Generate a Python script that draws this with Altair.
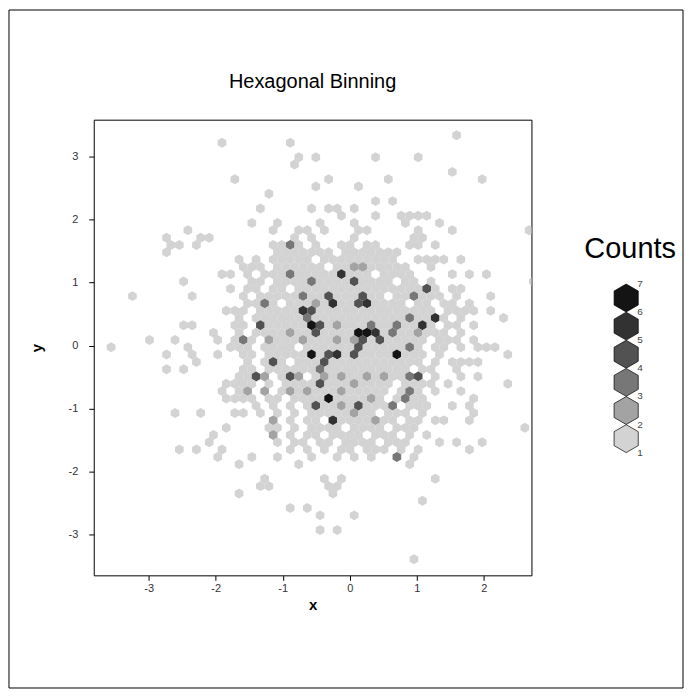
import altair as alt
import pandas as pd

TITLE = "Hexagonal Binning"
X_TICKS = [-3, -2, -1, 0, 1, 2]
Y_TICKS = [-3, -2, -1, 0, 1, 2, 3]
X_DOMAIN = [-3.82, 2.712]
Y_DOMAIN = [-3.649, 3.586]

# hexagon lattice of the bins (centres): odd rows are shifted by half a column
X_ORIGIN, X_STEP = -3.6246, 0.1273
Y_ORIGIN, Y_STEP = 3.3372, 0.11604

# one entry per hexagon row (top row first); tokens: "c" one point in column c,
# "a-b" count 1 in columns a..b, "c=k" count k in column c, "!c" empty column c
ROWS = [
    "41",
    "13 21",
    "",
    "22 24 31 36",
    "22",
    "40",
    "15 26 33 44",
    "24 29",
    "19",
    "31 33",
    "18 24 26 27 29",
    "27 31 34-37",
    "17 20 25 29 35 39",
    "9 19 22 23 25 29 30 36 40 49",
    "7 11 12 22 24 29 36 37",
    "7 8 10 19 20 21=3 22 24 27 28 30 31 35 36 38",
    "7 20-26 28-34",
    "15 17 19-23 25-33 36-39 41",
    "16 17 18 20-35 29=2 30=2 38 !26",
    "13 14 16 18-35 21=3 27=5 40 42 44 !31",
    "9 17-38 24=3 29=4 50 !19 !34 !37",
    "14 16-41 37=4 !18 !21 !39",
    "3 10 16-41 23=3 26=4 30=4 36=3 45 !17 !33 !40",
    "16-42 18=3 24=2 26=5 29=4 30=5 !20 !35 !38 !41",
    "14 15-41 23=5 24=4 42 43 45 !17 !39",
    "15-41 23=3 35=3 38=5 46 !16 !40",
    "9 10 15-41 18=4 24=6 25=4 27=2 31=3 34=3 37=5 43 !17 !39",
    "12 15-41 21=2 24=4 29=6 30=6 31=5 33=3 36=2 !16 !40",
    "5 8 13 15-41 16=3 19=2 23=2 27=2 29=2 30=4 32=4 43 !18 !38",
    "0 9 14 15-39 29=4 35=3 41 43 44 45 !17 !22 !37",
    "7 10 13 16-39 24=6 26=4 27=5 29=4 34=6 47 !18 !38",
    "10 16-43 19=4 25=4 !17 !21 !37 !39",
    "7 9 16-38 25=3 41 !18 !36",
    "15 16-38 17=4 18=2 21=4 22=2 25=2 27=2 30=2 32=2 35=3 36=4 41 43 !19 !23 !37",
    "14 15 16 17-38 25=4 29=2 40 47 !18 !20 !34",
    "13 15 16-38 16=2 18=2 21=2 23=2 27=2 35=3 41 !17 !19 !33 !37",
    "14 15 16 17-37 26=6 31=2 35=3 43 !18 !21 !33",
    "17-37 24=4 27=2 29=4 33=3 40 42 !18 !20 !22 !34",
    "8 11 15 16 18-37 29=2 43 !19 !21 !23 !32 !36",
    "19-36 19=2 26=5 31=2 38 39 42 !20 !22 !25 !34",
    "14 19-36 49 !21 !23 !28 !33",
    "12 19-35 19=2 37 !20 !22 !25 !30 !34",
    "12 20-35 39 41 44 !21 !24 !27 !32",
    "8 10 13 21-34 36 42 !22 !24 !26 !29 !33",
    "13 17 20 24 27 29 31 34=3 36",
    "15 22 35",
    "",
    "18 25 27 38",
    "18 19 26 27",
    "15 26",
    "37",
    "21 23",
    "25 29",
    "",
    "25 27",
    "",
    "",
    "",
    "36",
]

COUNT_LEVELS = [1, 2, 3, 4, 5, 6]
GRAYS = ["#d3d3d3", "#a3a3a3", "#777777", "#525252", "#323232", "#141414"]
LEGEND_BREAKS = [1, 2, 3, 4, 5, 6, 7]
LEGEND_TITLE = "Counts"


def parse(rows):
    recs = []
    for r, spec in enumerate(rows):
        cells = {}
        for tok in spec.split():
            if tok.startswith("!"):
                cells.pop(int(tok[1:]), None)
            elif "=" in tok:
                c, k = tok.split("=")
                cells[int(c)] = int(k)
            elif "-" in tok:
                a, b = tok.split("-")
                for c in range(int(a), int(b) + 1):
                    cells[c] = 1
            else:
                cells[int(tok)] = 1
        for c, k in sorted(cells.items()):
            recs.append({
                "x": X_ORIGIN + X_STEP * (c + 0.5 * (r % 2)),
                "y": Y_ORIGIN - Y_STEP * r,
                "count": k,
            })
    return pd.DataFrame(recs)


df = parse(ROWS)

HEX = "M0,-1L0.866,-0.5L0.866,0.5L0,1L-0.866,0.5L-0.866,-0.5Z"
FONT = "Liberation Sans"
color_scale = alt.Scale(domain=COUNT_LEVELS, range=GRAYS)
x_scale = alt.Scale(domain=X_DOMAIN, nice=False, zero=False)
y_scale = alt.Scale(domain=Y_DOMAIN, nice=False, zero=False)

axis_common = dict(
    domain=False, grid=False, ticks=True, tickSize=5, tickColor="black",
    tickWidth=1, labelFont=FONT, labelFontSize=11, labelColor="#333333",
    titleFont=FONT, titleFontSize=15, titleFontWeight="bold", titleColor="black",
    labelExpr="'' + datum.value",
)

hexes = alt.Chart(df).mark_point(
    shape=HEX, filled=True, size=100, opacity=1, strokeWidth=0, clip=True
).encode(
    x=alt.X("x:Q", scale=x_scale,
            axis=alt.Axis(values=X_TICKS, title="x", labelPadding=2, titlePadding=4,
                          **axis_common)),
    y=alt.Y("y:Q", scale=y_scale,
            axis=alt.Axis(values=Y_TICKS, title="y", labelPadding=11, titlePadding=24,
                          **axis_common)),
    color=alt.Color("count:O", scale=color_scale, legend=None),
)

# chart title, centred over the plot, placed above the top of the y range
title_mark = alt.Chart(pd.DataFrame({"t": [TITLE]})).transform_calculate(
    x=str((X_DOMAIN[0] + X_DOMAIN[1]) / 2), y="4.188"
).mark_text(font=FONT, fontSize=20, color="black", baseline="middle", align="center").encode(
    x="x:Q", y="y:Q", text="t:N"
)

# thin outer frame of the whole figure (decoration)
frame = alt.Chart(pd.DataFrame({"f": [0]})).mark_rect(
    fill="transparent", stroke="black", strokeWidth=1
).encode(
    x=alt.value(-85), x2=alt.value(591), y=alt.value(-110), y2=alt.value(570)
)

main = alt.layer(hexes, title_mark, frame).properties(
    width=439, height=457, view=alt.ViewBackground(stroke="black", strokeWidth=1)
)

lx = alt.Scale(domain=[0, 1], nice=False, zero=False)
ly = alt.Scale(domain=[-3.36, 12.84], nice=False, zero=False)

leg_hex = alt.Chart(pd.DataFrame({"level": COUNT_LEVELS})).transform_calculate(
    mid="datum.level + 0.5", px="0.536"
).mark_point(
    shape=HEX, filled=True, size=784, opacity=1, stroke="black", strokeWidth=0.7
).encode(
    x=alt.X("px:Q", scale=lx, axis=None),
    y=alt.Y("mid:Q", scale=ly, axis=None),
    color=alt.Color("level:O", scale=color_scale, legend=None),
)

leg_lab = alt.Chart(pd.DataFrame({"brk": LEGEND_BREAKS})).transform_calculate(
    px="0.624"
).mark_text(align="left", baseline="middle", font=FONT, fontSize=10, color="#444444").encode(
    x=alt.X("px:Q", scale=lx, axis=None),
    y=alt.Y("brk:Q", scale=ly, axis=None),
    text="brk:Q",
)

leg_title = alt.Chart(pd.DataFrame({"t": [LEGEND_TITLE]})).transform_calculate(
    px="0.568", py="8.23"
).mark_text(align="center", baseline="middle", font=FONT, fontSize=29, color="black").encode(
    x=alt.X("px:Q", scale=lx, axis=None),
    y=alt.Y("py:Q", scale=ly, axis=None),
    text="t:N",
)

legend = alt.layer(leg_hex, leg_lab, leg_title).properties(
    width=125, height=457, view=alt.ViewBackground(stroke="transparent")
)

chart = alt.hconcat(main, legend, spacing=28, bounds="flush").properties(
    padding={"left": 0, "top": 0, "right": 0, "bottom": 0},
).configure_view(stroke="transparent").configure(background="white")

chart.save("out.html", embed_options={"renderer": "svg", "actions": False})
